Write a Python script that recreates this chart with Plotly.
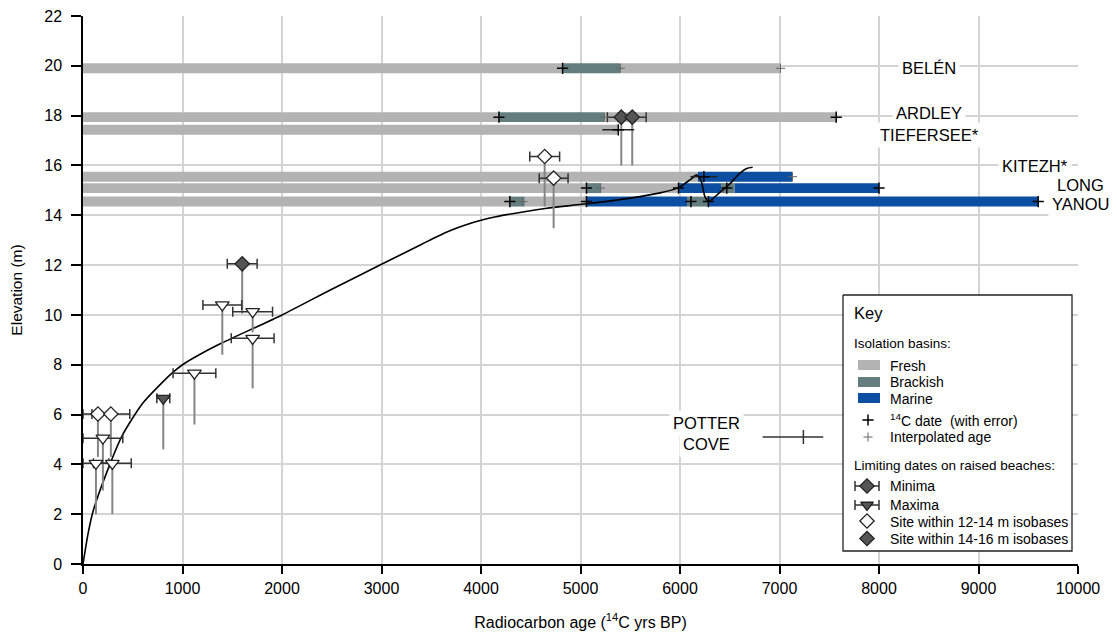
import plotly.graph_objects as go

# ---------------- data ----------------
lake_names = ["BELÉN", "ARDLEY", "TIEFERSEE*", "KITEZH*", "LONG", "YANOU"]
lake_elev = [19.9, 17.94, 17.43, 15.55, 15.09, 14.55]

seg_lake = [0, 0, 0, 1, 1, 1, 2, 3, 3, 4, 4, 4, 4, 4, 4, 5, 5, 5, 5, 5, 5]
seg_start = [0, 4820, 5400, 0, 4180, 5240, 0, 0, 6180, 0, 5060, 5210, 5985, 6415, 6550,
             0, 4290, 4440, 5060, 6070, 6285]
seg_end = [4820, 5400, 7010, 4180, 5240, 7570, 5380, 6180, 7130, 5060, 5210, 5985, 6415, 6550, 8000,
           4290, 4440, 5060, 6070, 6285, 9600]
seg_type = ["Fresh", "Brackish", "Fresh", "Fresh", "Brackish", "Fresh", "Fresh", "Fresh", "Marine",
            "Fresh", "Brackish", "Fresh", "Marine", "Brackish", "Marine",
            "Fresh", "Brackish", "Fresh", "Marine", "Brackish", "Marine"]

c14_lake = [0, 1, 1, 2, 3, 4, 4, 4, 4, 5, 5, 5, 5, 5]
c14_age = [4820, 4180, 7570, 5380, 6240, 5060, 5985, 6470, 8000, 4290, 5060, 6110, 6285, 9600]
c14_err = [0, 0, 0, 160, 135, 0, 0, 0, 0, 0, 0, 0, 0, 0]

interp_lake = [0, 0, 1, 3, 4, 5]
interp_age = [5400, 7010, 5240, 7130, 5200, 4420]

# raised beach limiting dates
rb_age = [1600, 1400, 1705, 1705, 1120, 807, 150, 280, 200, 130, 295, 4640, 4730, 5410, 5520]
rb_err = [150, 195, 200, 215, 215, 65, 150, 190, 200, 130, 190, 150, 145, 140, 140]
rb_elev = [12.05, 10.4, 10.13, 9.06, 7.66, 6.65, 6.02, 6.02, 5.05, 4.04, 4.04, 16.36, 15.49, 17.94, 17.94]
rb_low = [10.05, 8.4, 9.3, 7.05, 5.6, 4.6, 4.3, 4.3, 2.95, 2.0, 2.0, 14.35, 13.48, 16.0, 16.0]
rb_type = ["Minima", "Maxima", "Maxima", "Maxima", "Maxima", "Maxima", "Minima", "Minima",
           "Maxima", "Maxima", "Maxima", "Minima", "Minima", "Minima", "Minima"]
rb_iso = ["14-16", "12-14", "12-14", "12-14", "12-14", "14-16", "12-14", "12-14",
          "12-14", "12-14", "12-14", "12-14", "12-14", "14-16", "14-16"]

# sea-level curve
curve_age = [0, 50, 100, 270, 400, 600, 800, 900, 1000, 1200, 1400, 2000, 2500, 3000, 3400,
             3550, 3700, 3850, 4000, 4150, 4300, 4480, 4660, 5060, 5500, 5800, 5980, 6100,
             6170, 6215, 6250, 6290, 6400, 6490, 6600, 6670, 6730]
curve_elev = [0, 1.2, 2.1, 4.0, 5.2, 6.45, 7.3, 7.68, 8.0, 8.47, 8.88, 10.0, 11.03, 12.03, 12.83,
              13.13, 13.4, 13.62, 13.8, 13.94, 14.05, 14.17, 14.28, 14.46, 14.69, 14.9, 15.1, 15.42,
              15.62, 15.35, 14.75, 14.56, 14.92, 15.22, 15.68, 15.88, 15.93]

potter_age = 7240
potter_line = [6830, 7440]
potter_elev = 5.1

x_ticks = list(range(0, 10001, 1000))
y_ticks = list(range(0, 23, 2))

colors = {"Fresh": "#b3b3b3", "Brackish": "#647e80", "Marine": "#0b4ea2"}
FONT = "Arial, Liberation Sans, sans-serif"

# plot geometry (screen pixels) for legend placement; page body has an 8px margin
L, R, T, B = 83, 1078, 16, 564
OFF = 8
FW, FH = 1117 - OFF, 635 - OFF
def X(px):
    return (px - L) / (R - L) * 10000
def Y(py):
    return (B - py) / (B - T) * 22
def PX(px):
    return (px - L) / (R - L)
def PY(py):
    return (B - py) / (B - T)

fig = go.Figure()

# ---------------- bars ----------------
for t in ["Fresh", "Brackish", "Marine"]:
    idx = [i for i, s in enumerate(seg_type) if s == t]
    fig.add_trace(go.Bar(
        orientation="h",
        y=[lake_elev[seg_lake[i]] for i in idx],
        base=[seg_start[i] for i in idx],
        x=[seg_end[i] - seg_start[i] for i in idx],
        width=0.4, marker=dict(color=colors[t], line=dict(width=0)),
        showlegend=False, hoverinfo="skip"))

# curve
fig.add_trace(go.Scatter(x=curve_age, y=curve_elev, mode="lines",
                         line=dict(color="black", width=1.6, shape="spline", smoothing=0.7),
                         showlegend=False, hoverinfo="skip"))

# stems
sx, sy = [], []
for a, e, lo in zip(rb_age, rb_elev, rb_low):
    sx += [a, a, None]
    sy += [e, lo, None]
fig.add_trace(go.Scatter(x=sx, y=sy, mode="lines", line=dict(color="#858585", width=2),
                         showlegend=False, hoverinfo="skip"))

# Potter Cove
fig.add_trace(go.Scatter(x=potter_line, y=[potter_elev, potter_elev], mode="lines",
                         line=dict(color="#333333", width=1.5), showlegend=False, hoverinfo="skip"))
fig.add_trace(go.Scatter(x=[potter_age], y=[potter_elev], mode="markers",
                         marker=dict(symbol="line-ns", size=10, line=dict(color="#333333", width=1.5)),
                         showlegend=False, hoverinfo="skip"))

# raised beach markers
for typ, sym, size in [("Maxima", "triangle-down", 12), ("Minima", "diamond", 11)]:
    for iso, fill in [("12-14", "white"), ("14-16", "#555555")]:
        idx = [i for i in range(len(rb_age)) if rb_type[i] == typ and rb_iso[i] == iso]
        if not idx:
            continue
        fig.add_trace(go.Scatter(
            x=[rb_age[i] for i in idx], y=[rb_elev[i] for i in idx], mode="markers",
            error_x=dict(type="data", array=[rb_err[i] for i in idx], color="#333333",
                         thickness=1.5, width=5),
            marker=dict(symbol=sym, size=size, color=fill, line=dict(color="#222222", width=1.3)),
            cliponaxis=False, showlegend=False, hoverinfo="skip"))

# 14C dates
fig.add_trace(go.Scatter(
    x=c14_age, y=[lake_elev[i] for i in c14_lake], mode="markers",
    error_x=dict(type="data", array=c14_err, color="#222222", thickness=1.5, width=0),
    marker=dict(symbol="cross-thin", size=8, color="black", line=dict(width=1.5, color="black")),
    cliponaxis=False, showlegend=False, hoverinfo="skip"))
# interpolated ages
fig.add_trace(go.Scatter(
    x=interp_age, y=[lake_elev[i] for i in interp_lake], mode="markers",
    marker=dict(symbol="cross-thin", size=6.5, color="#666666", line=dict(width=1, color="#666666")),
    cliponaxis=False, showlegend=False, hoverinfo="skip"))

# ---------------- legend (key) ----------------
bx0, by0, bx1, by1 = 843, 295, 1072, 551
fig.add_trace(go.Scatter(
    x=[X(bx0), X(bx1), X(bx1), X(bx0), X(bx0)], y=[Y(by0), Y(by0), Y(by1), Y(by1), Y(by0)],
    mode="lines", fill="toself", fillcolor="white", line=dict(color="#222222", width=1.3),
    showlegend=False, hoverinfo="skip"))

shapes = []
for t, (y0, y1) in zip(["Fresh", "Brackish", "Marine"], [(360, 370), (377, 387), (393, 403)]):
    shapes.append(dict(type="rect", xref="x", yref="y", x0=X(858), x1=X(880), y0=Y(y0), y1=Y(y1),
                       fillcolor=colors[t], line=dict(width=0), layer="above"))

fig.add_trace(go.Scatter(x=[X(868)], y=[Y(420)], mode="markers",
                         marker=dict(symbol="cross-thin", size=8, color="black", line=dict(width=1.5, color="black")),
                         showlegend=False, hoverinfo="skip"))
fig.add_trace(go.Scatter(x=[X(868)], y=[Y(437)], mode="markers",
                         marker=dict(symbol="cross-thin", size=6.5, color="#666666", line=dict(width=1, color="#666666")),
                         showlegend=False, hoverinfo="skip"))
fig.add_trace(go.Scatter(x=[X(867)], y=[Y(486)], mode="markers",
                         error_x=dict(type="data", array=[X(879) - X(867)], color="#333333", thickness=1.5, width=5),
                         marker=dict(symbol="diamond", size=11, color="#555555", line=dict(color="#222222", width=1.3)),
                         showlegend=False, hoverinfo="skip"))
fig.add_trace(go.Scatter(x=[X(867)], y=[Y(505)], mode="markers",
                         error_x=dict(type="data", array=[X(879) - X(867)], color="#333333", thickness=1.5, width=5),
                         marker=dict(symbol="triangle-down", size=11, color="#555555", line=dict(color="#222222", width=1.3)),
                         showlegend=False, hoverinfo="skip"))
fig.add_trace(go.Scatter(x=[X(867), X(867)], y=[Y(521), Y(538.5)], mode="markers",
                         marker=dict(symbol="diamond", size=11, color=["white", "#555555"],
                                     line=dict(color="#222222", width=1.3)),
                         showlegend=False, hoverinfo="skip"))

ann = []
def txt(px, py, s, size=13.5, xanchor="left", bg=None):
    d = dict(x=PX(px), y=PY(py), xref="paper", yref="paper", text=s, showarrow=False,
             xanchor=xanchor, yanchor="middle", font=dict(family=FONT, size=size, color="black"))
    if bg:
        d.update(bgcolor=bg, borderpad=3)
    ann.append(d)

txt(852, 313, "Key", 16.5)
txt(852, 344, "Isolation basins:")
txt(888, 366, "Fresh", 14)
txt(888, 382, "Brackish", 14)
txt(888, 398.5, "Marine", 14)
txt(888, 420, "<sup>14</sup>C date\u00a0\u00a0(with error)", 14)
txt(888, 437, "Interpolated age", 14)
txt(852, 465, "Limiting dates on raised beaches:", 13.5)
txt(888, 486, "Minima", 14)
txt(888, 505, "Maxima", 14)
txt(888, 522, "Site within 12-14 m isobases", 14)
txt(888, 539, "Site within 14-16 m isobases", 14)

# lake labels
txt(929, 68, lake_names[0], 16.5, "center", "white")
txt(929, 113, lake_names[1], 16.5, "center", "white")
txt(929, 135, lake_names[2], 16.5, "center", "white")
txt(1035, 166, lake_names[3], 16.5, "center", "white")
txt(1080, 185, lake_names[4], 16.5, "center", "white")
txt(1080, 204.5, lake_names[5], 16.5, "center", "white")
txt(706, 423, "POTTER", 16.5, "center", "white")
txt(706, 443.5, "COVE", 16.5, "center", "white")

fig.update_layout(
    width=FW, height=FH,
    margin=dict(l=L - OFF, r=FW - (R - OFF), t=T - OFF, b=FH - (B - OFF)),
    plot_bgcolor="white", paper_bgcolor="white",
    barmode="overlay", showlegend=False,
    font=dict(family=FONT, size=16, color="black"),
    shapes=shapes, annotations=ann,
    xaxis=dict(range=[0, 10000], tickvals=x_ticks, ticktext=[str(v) for v in x_ticks],
               showgrid=True, gridcolor="#d4d4d4", gridwidth=1.5, zeroline=False,
               showline=True, linecolor="black", linewidth=1.5,
               ticks="outside", ticklen=8, tickwidth=1.5, tickcolor="black",
               tickfont=dict(family=FONT, size=16), ticklabelstandoff=1,
               ticklabeloverflow="allow",
               title=dict(text="Radiocarbon age (<sup>14</sup>C yrs BP)", standoff=21,
                          font=dict(family=FONT, size=16)),
               automargin=False),
    yaxis=dict(range=[0, 22], tickvals=y_ticks, ticktext=[str(v) for v in y_ticks],
               showgrid=True, gridcolor="#d4d4d4", gridwidth=1.5, zeroline=False,
               showline=True, linecolor="black", linewidth=1.5,
               ticks="outside", ticklen=10, tickwidth=1.5, tickcolor="black",
               tickfont=dict(family=FONT, size=16), ticklabelstandoff=6,
               ticklabeloverflow="allow",
               title=dict(text="Elevation (m)", standoff=18, font=dict(family=FONT, size=15.5)),
               automargin=False),
)

fig.write_html("out.html")
